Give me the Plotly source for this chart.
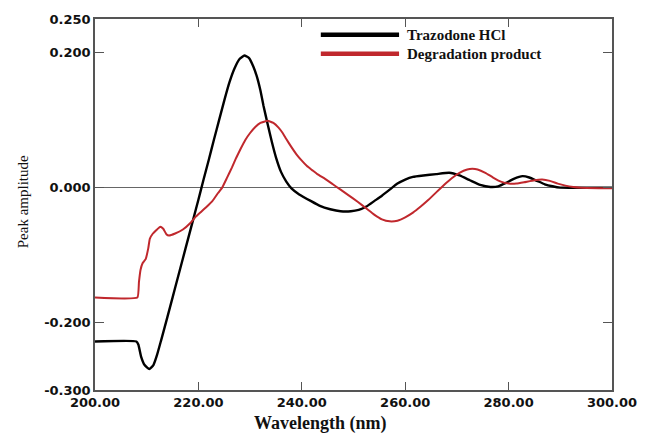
import plotly.graph_objects as go

# Trazodone HCl (black)
traz_x = [200, 208, 208.4, 208.9, 209.6, 210.5, 211.3, 212, 212.8, 214, 215, 216, 217, 218, 219,
          220, 221, 222, 223, 224, 225, 226, 227, 228, 228.9, 229.8, 230.6, 231.3, 232, 232.6,
          233.4, 234.2, 235, 236, 237, 238, 239.5, 241.8, 243.5, 245.5, 247.5, 249.5, 251, 252.5,
          254, 255.5, 257, 258.5, 260, 261.5, 263.5, 266, 268.5, 270.5, 272.5, 274.5, 276.5, 278,
          279.5, 281, 282.7, 284, 285.5, 287, 288.5, 290, 300]
traz_y = [-0.228, -0.228, -0.233, -0.250, -0.263, -0.269, -0.263, -0.248, -0.226, -0.192, -0.163,
          -0.134, -0.105, -0.076, -0.047, -0.018, 0.012, 0.041, 0.071, 0.100, 0.129, 0.156, 0.177,
          0.191, 0.196, 0.192, 0.180, 0.165, 0.144, 0.121, 0.094, 0.068, 0.045, 0.023, 0.009,
          -0.001, -0.010, -0.020, -0.027, -0.032, -0.035, -0.035, -0.033, -0.028, -0.020, -0.012,
          -0.003, 0.006, 0.012, 0.016, 0.018, 0.020, 0.022, 0.018, 0.011, 0.004, 0.001, 0.002,
          0.007, 0.013, 0.017, 0.015, 0.010, 0.005, 0.002, 0.000, 0.000]

# Degradation product (red)
deg_x = [200, 208.2, 208.5, 208.8, 209.2, 209.8, 210.3, 210.6, 211.2, 212, 212.6, 213.2, 213.8,
         214.3, 215.5, 217, 218.5, 219.5, 220.5, 221.5, 222.7, 223.8, 224.6, 225.5, 226.5, 227.3,
         228.2, 229.1, 230, 231, 232, 233.4, 234.5, 235.5, 236.3, 237, 238, 239, 240, 241, 242,
         243, 244.5, 246, 247.5, 249, 250.8, 252.5, 254, 255.5, 257, 258.5, 260, 261.5, 263,
         264.5, 266, 267.5, 269, 270.5, 272, 273, 274, 275.5, 277, 278.5, 280, 281.5, 283, 285,
         286.5, 288, 289.5, 291, 292.5, 294, 300]
deg_y = [-0.163, -0.163, -0.140, -0.122, -0.112, -0.106, -0.090, -0.076, -0.068, -0.062, -0.058,
         -0.061, -0.069, -0.071, -0.068, -0.062, -0.052, -0.043, -0.036, -0.029, -0.020, -0.008,
         0.000, 0.014, 0.030, 0.044, 0.058, 0.071, 0.081, 0.090, 0.096, 0.099, 0.096, 0.089,
         0.081, 0.072, 0.060, 0.049, 0.040, 0.032, 0.026, 0.020, 0.013, 0.005, -0.003, -0.011,
         -0.021, -0.031, -0.040, -0.047, -0.050, -0.049, -0.044, -0.037, -0.028, -0.018, -0.007,
         0.004, 0.014, 0.022, 0.027, 0.028, 0.027, 0.022, 0.015, 0.009, 0.006, 0.006, 0.008,
         0.011, 0.012, 0.010, 0.006, 0.003, 0.001, 0.000, -0.001]

x_ticks = [200, 220, 240, 260, 280, 300]
x_labels = ["200.00", "220.00", "240.00", "260.00", "280.00", "300.00"]
y_ticks = [0.25, 0.2, 0.0, -0.2, -0.3]
y_labels = ["0.250", "0.200", "0.000", "-0.200", "-0.300"]

series_names = ["Trazodone HCl", "Degradation product"]
series_colors = ["#000000", "#c0282d"]

fig = go.Figure()
fig.add_trace(go.Scatter(x=traz_x, y=traz_y, mode="lines", name=series_names[0],
                         line=dict(color=series_colors[0], width=2.4, shape="spline", smoothing=0.35),
                         showlegend=False))
fig.add_trace(go.Scatter(x=deg_x, y=deg_y, mode="lines", name=series_names[1],
                         line=dict(color=series_colors[1], width=2.0, shape="spline", smoothing=0.35),
                         showlegend=False))

tickfont = dict(family="DejaVu Sans", size=13, color="#111111", weight="bold")
axis_common = dict(showline=True, linecolor="#555555", linewidth=1.5, mirror="ticks",
                   ticks="inside", tickcolor="#555555", tickwidth=1.3, showgrid=False,
                   tickfont=tickfont)

fig.update_xaxes(range=[200, 300], tickvals=x_ticks, ticktext=x_labels, ticklen=8,
                 zeroline=False, **axis_common)
fig.update_yaxes(range=[-0.3, 0.25], tickvals=y_ticks, ticktext=y_labels, ticklen=9,
                 zeroline=True, zerolinecolor="#666666", zerolinewidth=1.2, **axis_common)

# manual legend
legend_rows = [(32, series_names[0], series_colors[0]), (51, series_names[1], series_colors[1])]
for ypx, name, col in legend_rows:
    yp = 1 - (ypx - 16) / (390 - 16)
    fig.add_shape(type="line", xref="paper", yref="paper",
                  x0=(323 - 95) / 522, x1=(402 - 95) / 522, y0=yp, y1=yp,
                  line=dict(color=col, width=4.5))
    fig.add_annotation(xref="paper", yref="paper", x=(408 - 95) / 522, y=yp, xanchor="left",
                       yanchor="middle", text=name, showarrow=False,
                       font=dict(family="Liberation Serif", size=15, color="#111111", weight="bold"))

# axis titles
fig.add_annotation(xref="paper", yref="paper", x=(323 - 95) / 522, y=-(424 - 390) / 374,
                   xanchor="center", yanchor="middle", text="Wavelength (nm)", showarrow=False,
                   font=dict(family="Liberation Serif", size=18, color="#111111", weight="bold"))
fig.add_annotation(xref="paper", yref="paper", x=-(95 - 22) / 522, y=1 - (200 - 16) / 374,
                   xanchor="center", yanchor="middle", text="Peak amplitude", showarrow=False,
                   textangle=-90,
                   font=dict(family="Liberation Serif", size=15, color="#111111"))

fig.update_layout(width=649, height=434, margin=dict(l=95, r=32, t=16, b=44),
                  paper_bgcolor="white", plot_bgcolor="white")

fig.write_html("out.html")
